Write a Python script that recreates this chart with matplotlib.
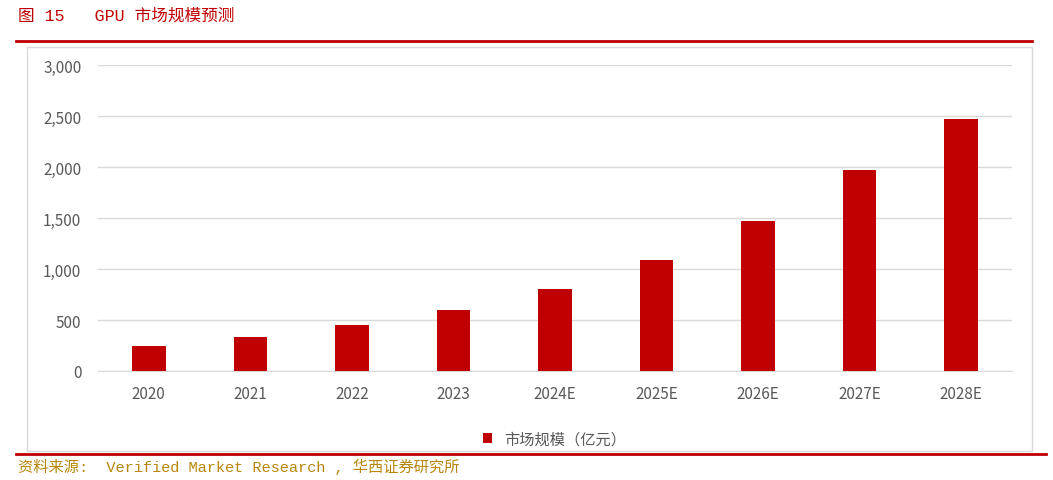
import matplotlib
matplotlib.use("Agg")
import matplotlib.pyplot as plt
from matplotlib.patches import Rectangle
from matplotlib.lines import Line2D

plt.rcParams['font.family'] = ['Noto Sans CJK SC', 'DejaVu Sans']

categories = ["2020", "2021", "2022", "2023", "2024E", "2025E", "2026E", "2027E", "2028E"]
values = [245, 333, 451, 598, 804, 1088, 1471, 1971, 2471]
yticks = [0, 500, 1000, 1500, 2000, 2500, 3000]
series_name = "市场规模（亿元）"
red = "#C00000"

W, H = 1053, 481
fig = plt.figure(figsize=(W/100, H/100), dpi=100)

fig.text(18/W, 1-16/H, "图 15   GPU 市场规模预测", color="#C00000", fontsize=12,
         va="center", ha="left", family=['Liberation Mono', 'Noto Sans CJK SC'])
fig.add_artist(Line2D([16/W, 1032/W], [1-42/H, 1-42/H], color=red, lw=2))
fig.add_artist(Rectangle((27/W, 1-452/H), (1032-27)/W, (452-48)/H, fill=False,
                         edgecolor="#D9D9D9", lw=1))
fig.add_artist(Line2D([16/W, 1046/W], [1-455/H, 1-455/H], color=red, lw=2))
fig.text(18/W, 1-467/H, "资料来源:  Verified Market Research , 华西证券研究所", color="#B8860B",
         fontsize=11, va="center", ha="left", family=['Liberation Mono', 'Noto Sans CJK SC'])

ax = fig.add_axes([98/W, 1-372/H, (1012-98)/W, (372-66)/H])
x = range(len(categories))
ax.bar(x, values, width=0.33, color=red, label=series_name, zorder=3)
ax.set_ylim(0, 3000)
ax.set_xlim(-0.5, len(categories)-0.5)
ax.set_yticks(yticks)
ax.set_yticklabels([f"{v:,}" for v in yticks])
ax.set_xticks(list(x))
ax.set_xticklabels(categories)
ax.grid(axis='y', color="#D9D9D9", lw=1, zorder=0)
for s in ["top", "right", "left"]:
    ax.spines[s].set_visible(False)
ax.spines["bottom"].set_color("#D9D9D9")
ax.tick_params(length=0, labelsize=11, colors="#595959")
ax.tick_params(axis='x', pad=10)
ax.tick_params(axis='y', pad=12)
ax.legend(loc="upper center", bbox_to_anchor=(0.5, -0.15), frameon=False, fontsize=11,
          handlelength=0.6, handleheight=0.6, labelcolor="#595959")

fig.savefig("out.png", dpi=100)
